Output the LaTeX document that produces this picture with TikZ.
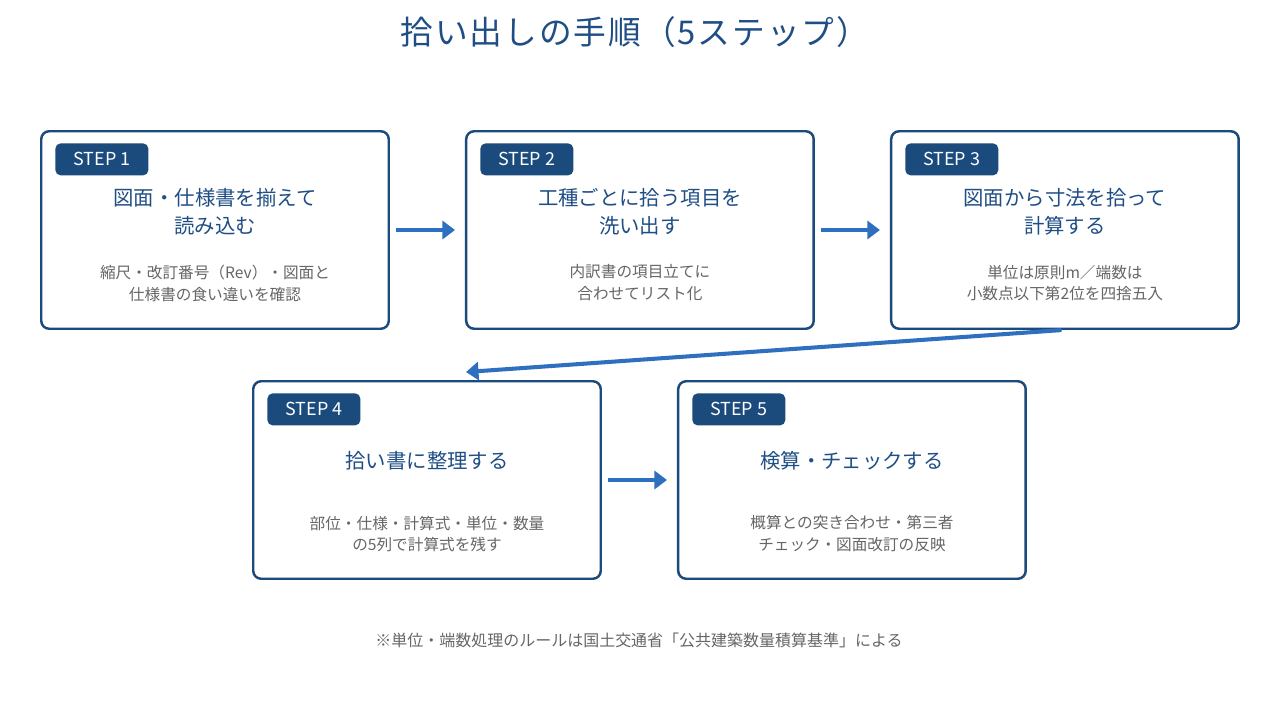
\documentclass[tikz,border=0pt]{standalone}
\usepackage{fontspec}
\setmainfont{Noto Sans CJK JP}
\newfontfamily\titlefont{Noto Sans CJK JP}[LetterSpace=6]
\usetikzlibrary{arrows.meta,positioning,calc}
\definecolor{PkNavy}{HTML}{1B4A7D}
\definecolor{PkTitle}{HTML}{1F4E85}
\definecolor{PkBlue}{HTML}{2F6FC0}
\definecolor{PkGray}{HTML}{666666}

\begin{document}
\begin{tikzpicture}[
  node distance=1cm and 1.5cm,
  stepbox/.style={draw=PkNavy,line width=1.4pt,rounded corners=4.5pt,fill=white,minimum width=6.95cm,minimum height=3.95cm,inner sep=0pt},
  badge/.style={fill=PkNavy,rounded corners=3pt,minimum width=1.86cm,minimum height=0.64cm,inner sep=0pt,text=white,font=\fontsize{10.2}{12}\selectfont,anchor=north west},
  head/.style={text=PkTitle,align=center,font=\fontsize{11.6}{15.9}\selectfont},
  note/.style={text=PkGray,align=center,font=\fontsize{8.9}{12.5}\selectfont},
  arr/.style={-{Triangle[length=2.5mm,width=3.6mm]},draw=PkBlue,line width=2.3pt}
]
\useasboundingbox (0,0) rectangle (25.6,-14.4);

\node[text=PkTitle,font=\titlefont\fontsize{18.6}{22}\selectfont] (title) at (12.7,-0.64) {拾い出しの手順（5ステップ）};

% top row
\node[stepbox] (s1) at (4.3,-4.6) {};
\node[stepbox,right=of s1] (s2) {};
\node[stepbox,right=of s2] (s3) {};
% bottom row
\node[stepbox] (s4) at (8.54,-9.6) {};
\node[stepbox,right=of s4] (s5) {};

\node[badge] (t1) at ($(s1.north west)+(0.3,-0.26)$) {STEP 1};
\node[badge] (t2) at ($(s2.north west)+(0.3,-0.26)$) {STEP 2};
\node[badge] (t3) at ($(s3.north west)+(0.3,-0.26)$) {STEP 3};
\node[badge] (t4) at ($(s4.north west)+(0.3,-0.26)$) {STEP 4};
\node[badge] (t5) at ($(s5.north west)+(0.3,-0.26)$) {STEP 5};

\node[head] (h1) at ($(s1.north)+(0,-1.64)$) {図面・仕様書を揃えて\\読み込む};
\node[head] (h2) at ($(s2.north)+(0,-1.64)$) {工種ごとに拾う項目を\\洗い出す};
\node[head] (h3) at ($(s3.north)+(0,-1.64)$) {図面から寸法を拾って\\計算する};
\node[head] (h4) at ($(s4.north)+(0,-1.62)$) {拾い書に整理する};
\node[head] (h5) at ($(s5.north)+(0,-1.62)$) {検算・チェックする};

\node[note] (d1) at ($(s1.north)+(0,-3.06)$) {縮尺・改訂番号（Rev）・図面と\\仕様書の食い違いを確認};
\node[note] (d2) at ($(s2.north)+(0,-3.06)$) {内訳書の項目立てに\\合わせてリスト化};
\node[note] (d3) at ($(s3.north)+(0,-3.06)$) {単位は原則m／端数は\\小数点以下第2位を四捨五入};
\node[note] (d4) at ($(s4.north)+(0,-3.08)$) {部位・仕様・計算式・単位・数量\\の5列で計算式を残す};
\node[note] (d5) at ($(s5.north)+(0,-3.08)$) {概算との突き合わせ・第三者\\チェック・図面改訂の反映};

\node[note,font=\fontsize{9.1}{12}\selectfont] (foot) at (12.78,-12.8) {※単位・端数処理のルールは国土交通省「公共建築数量積算基準」による};

\coordinate (a4) at ($(s4.north)+(0.78,0.16)$);
\draw[arr,shorten <=0.12cm,shorten >=0.2cm] (s1) -- (s2);
\draw[arr,shorten <=0.12cm,shorten >=0.2cm] (s2) -- (s3);
\draw[arr,line cap=round,shorten <=0.06cm] ($(s3.south)+(-0.04,0)$) -- (a4);
\draw[arr,shorten <=0.12cm,shorten >=0.2cm] (s4) -- (s5);
\end{tikzpicture}
\end{document}
